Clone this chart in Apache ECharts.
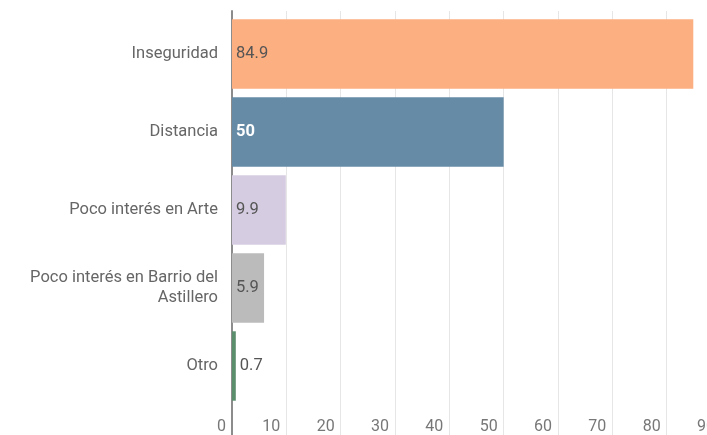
<!DOCTYPE html>
<html>
<head>
<meta charset="utf-8">
<script src="https://cdn.jsdelivr.net/npm/echarts@6/dist/echarts.min.js"></script>
<style>
  html, body { margin: 0; padding: 0; background: #fff; overflow: hidden; }
  /* the original plot runs past the right edge (90 is cut off), so the canvas is wider than the window */
  #chart { width: 740px; height: 435px; }
</style>
</head>
<body>
<div id="chart"></div>
<script>
// data, top to bottom
const categories = ['Inseguridad', 'Distancia', 'Poco interés en Arte', 'Poco interés en Barrio del\nAstillero', 'Otro']
const values = [84.9, 50, 9.9, 5.9, 0.7]
const barColors = ['#FCAF80', '#668BA6', '#D5CCE1', '#BBBBBB', '#5B8E6D']
const xTicks = [0, 10, 20, 30, 40, 50, 60, 70, 80, 90]

const font = 'Roboto, "Noto Sans", sans-serif'
const chart = echarts.init(document.getElementById('chart'))

chart.setOption({
  animation: false,
  grid: [
    // bars
    { left: 232, right: 19, top: 15, bottom: 28 },
    // gridlines + axis line, they run a bit beyond the bars
    { left: 232, right: 19, top: 11, bottom: 0 }
  ],
  xAxis: [
    {
      gridIndex: 0,
      type: 'value',
      min: 0,
      max: 90,
      interval: 10,
      axisLine: { show: false },
      axisTick: { show: false },
      splitLine: { show: false },
      axisLabel: {
        margin: 14,
        align: 'right',
        padding: [0, 6, 0, 0],
        color: '#777',
        fontSize: 16,
        fontFamily: font,
        showMaxLabel: true,
        formatter: (v) => xTicks.includes(v) ? String(v) : ''
      }
    },
    {
      gridIndex: 1,
      type: 'value',
      min: 0,
      max: 90,
      interval: 10,
      axisLine: { show: false },
      axisTick: { show: false },
      axisLabel: { show: false },
      splitLine: { show: true, lineStyle: { color: '#E6E6E6', width: 1 } }
    }
  ],
  yAxis: [
    {
      gridIndex: 0,
      type: 'category',
      data: categories,
      inverse: true,
      axisLine: { show: false },
      axisTick: { show: false },
      axisLabel: {
        margin: 14,
        color: '#666',
        fontSize: 16.5,
        lineHeight: 20,
        fontFamily: font
      }
    },
    {
      gridIndex: 1,
      type: 'category',
      data: [''],
      axisLine: { show: true, lineStyle: { color: '#8C8C8C', width: 2 } },
      axisTick: { show: false },
      axisLabel: { show: false }
    }
  ],
  series: [
    {
      type: 'bar',
      xAxisIndex: 0,
      yAxisIndex: 0,
      barCategoryGap: '11%',
      data: values.map((v, i) => ({
        value: v,
        itemStyle: { color: barColors[i] },
        label: i === 1
          ? { color: '#fff', fontWeight: 'bold' }
          : (v < 3 ? { position: 'right', distance: 4 } : {})
      })),
      label: {
        show: true,
        position: 'insideLeft',
        distance: 4,
        color: '#555',
        fontSize: 16.5,
        fontFamily: font
      }
    }
  ]
})
</script>
</body>
</html>
